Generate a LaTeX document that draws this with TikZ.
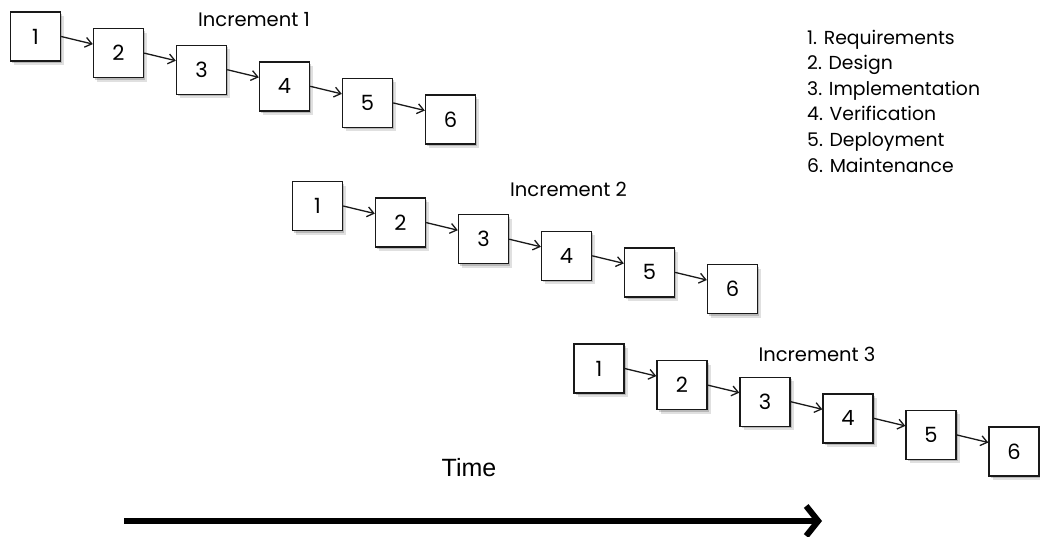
\documentclass[tikz,border=0pt]{standalone}
\usepackage{fontspec}
\setmainfont{Poppins}
\newfontfamily\timefont{Liberation Sans}
\usetikzlibrary{arrows.meta,shadows}
\begin{document}
\begin{tikzpicture}[x=1pt,y=-1pt,
  stepbox/.style={draw=black!90, line width=1.4pt, fill=white, minimum width=50pt, minimum height=49pt, inner sep=0pt,
    font=\fontsize{21}{25}\selectfont,
    drop shadow={fill=black, opacity=0.12, shadow xshift=3.5pt, shadow yshift=-4pt},
    drop shadow={fill=black, opacity=0.18, shadow xshift=1.8pt, shadow yshift=-2pt}},
  flow/.style={draw=black!90, line width=1.3pt, -{Straight Barb[length=6.5pt,width=10pt]}},
  inclabel/.style={font=\fontsize{19.5}{23}\selectfont, anchor=base, inner sep=0pt},
  legendtext/.style={font=\fontsize{18.8}{22}\selectfont, anchor=base west, inner sep=0pt},
  timearrow/.style={line width=6pt, -{Straight Barb[length=12pt,width=30pt]}}]
\useasboundingbox (0,0) rectangle (1040,536);

\foreach \r/\ox/\oy in {1/35.5/36.5, 2/317.5/206, 3/599/368.5} {
  \foreach \i in {1,...,6} {
    \node[stepbox] (r\r-b\i) at ({\ox+83*(\i-1)}, {\oy+16.6*(\i-1)}) {\i};
  }
  \foreach \i [evaluate=\i as \j using int(\i+1)] in {1,...,5} {
    \draw[flow] (r\r-b\i.east) -- ([yshift=9pt]r\r-b\j.west);
  }
}

\node[inclabel] (inc1) at (254,26) {Increment 1};
\node[inclabel] (inc2) at (568.5,196) {Increment 2};
\node[inclabel] (inc3) at (817,361) {Increment 3};

\node[legendtext] (leg1) at (807,44) {1. Requirements};
\node[legendtext] (leg2) at (807,69.6) {2. Design};
\node[legendtext] (leg3) at (807,95.2) {3. Implementation};
\node[legendtext] (leg4) at (807,120.8) {4. Verification};
\node[legendtext] (leg5) at (807,146.4) {5. Deployment};
\node[legendtext] (leg6) at (807,172) {6. Maintenance};

\node[font=\timefont\fontsize{25}{30}\selectfont, anchor=base, inner sep=0pt] (time) at (469,476) {Time};
\coordinate (ts) at (124,521);
\coordinate (te) at (822,521);
\draw[timearrow] (ts) -- (te);
\end{tikzpicture}
\end{document}
